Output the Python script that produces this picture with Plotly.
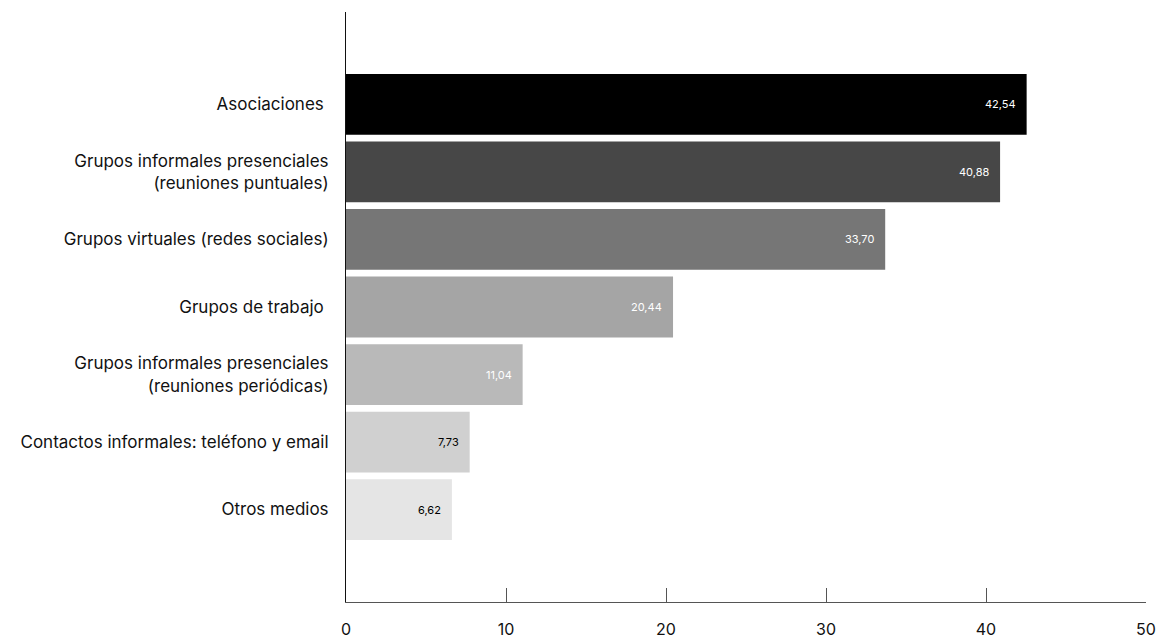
import plotly.graph_objects as go

categories = [
    "Asociaciones\u00a0",
    "Grupos informales presenciales<br>(reuniones puntuales)",
    "Grupos virtuales (redes sociales)",
    "Grupos de trabajo\u00a0",
    "Grupos informales presenciales<br>(reuniones periódicas)",
    "Contactos informales: teléfono y email",
    "Otros medios",
]
values = [42.54, 40.88, 33.70, 20.44, 11.04, 7.73, 6.62]
value_labels = ["42,54", "40,88", "33,70", "20,44", "11,04", "7,73", "6,62"]
bar_colors = ["#000000", "#474747", "#767676", "#a5a5a5", "#b9b9b9", "#d0d0d0", "#e5e5e5"]
label_colors = ["#ffffff", "#ffffff", "#ffffff", "#ffffff", "#ffffff", "#000000", "#000000"]
x_ticks = [0, 10, 20, 30, 40, 50]

FONT = "Inter"

fig = go.Figure()
fig.add_trace(go.Bar(
    x=values, y=categories, orientation="h",
    marker=dict(color=bar_colors, line=dict(width=0)),
    width=0.9, hoverinfo="skip",
))

for c, v, t, col in zip(categories, values, value_labels, label_colors):
    fig.add_annotation(x=v, y=c, text=t, showarrow=False, xanchor="right",
                       xshift=-9, font=dict(size=11, color=col, family=FONT))

n = len(categories)
fig.update_layout(
    width=1159, height=642,
    margin=dict(l=346, r=13, t=12, b=40),
    paper_bgcolor="white", plot_bgcolor="white",
    showlegend=False,
    font=dict(family=FONT, color="#111111"),
    xaxis=dict(
        range=[0, 50], tickvals=x_ticks, ticktext=[str(v) for v in x_ticks],
        showgrid=False, zeroline=False, automargin=False,
        showline=True, linecolor="#555555", linewidth=1,
        ticks="inside", ticklen=14, tickcolor="#555555", tickwidth=1,
        ticklabelstandoff=13,
        tickfont=dict(size=16, color="#111111"),
    ),
    yaxis=dict(
        type="category", categoryorder="array", categoryarray=categories,
        range=[n - 1 + 1.37, -1.37],
        showgrid=False, zeroline=False, automargin=False,
        showline=True, linecolor="#111111", linewidth=1,
        ticks="", ticklabelstandoff=13,
        tickfont=dict(size=17, color="#111111"),
    ),
    bargap=0.1,
)

fig.write_html("out.html")
